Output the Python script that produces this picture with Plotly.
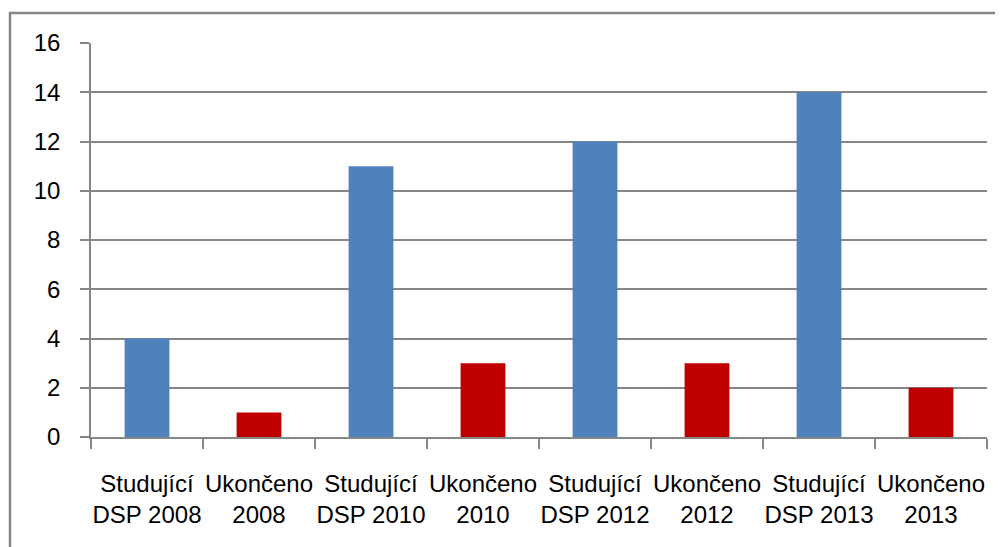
import plotly.graph_objects as go

categories = ["Studující<br>DSP 2008", "Ukončeno<br>2008",
              "Studující<br>DSP 2010", "Ukončeno<br>2010",
              "Studující<br>DSP 2012", "Ukončeno<br>2012",
              "Studující<br>DSP 2013", "Ukončeno<br>2013"]
values = [4, 1, 11, 3, 12, 3, 14, 2]
bar_colors = ["#4F81BD", "#C00000", "#4F81BD", "#C00000",
              "#4F81BD", "#C00000", "#4F81BD", "#C00000"]
y_ticks = [0, 2, 4, 6, 8, 10, 12, 14, 16]

# page body has an 8px margin, so shift everything up/left by 8
OFF = 8
W, H = 1003, 547
pw, ph = 896, 394
L, T = 91 - OFF, 43 - OFF
R, B = W - L - pw, H - T - ph

fig = go.Figure(go.Bar(x=categories, y=values, marker=dict(color=bar_colors, line=dict(width=0)),
                       hoverinfo="x+y"))

grid = "#868686"
fig.update_layout(
    width=W, height=H,
    margin=dict(l=L, r=R, t=T, b=B, pad=0, autoexpand=False),
    paper_bgcolor="white", plot_bgcolor="white",
    bargap=0.6, showlegend=False,
    font=dict(family="Liberation Sans, Arial, sans-serif", size=24, color="#000000"),
    xaxis=dict(type="category", tickson="boundaries", ticks="outside", ticklen=10,
               tickcolor=grid, tickwidth=1.5, showgrid=False,
               showline=True, linecolor=grid, linewidth=1.5,
               tickfont=dict(size=24), ticklabelstandoff=24, tickangle=0),
    yaxis=dict(range=[0, 16], tickvals=y_ticks, ticks="outside", ticklen=9,
               tickcolor=grid, tickwidth=1.5, showgrid=True, gridcolor=grid, gridwidth=1.5,
               showline=True, linecolor=grid, linewidth=1.5, zeroline=False,
               tickfont=dict(size=24), ticklabelstandoff=15),
    shapes=[dict(type="rect", xref="paper", yref="paper",
                 x0=(10 - OFF - L) / pw, x1=(W + 20 - L) / pw,
                 y0=-(H + 20 - T - ph) / ph, y1=(T + ph - (13 - OFF)) / ph,
                 line=dict(color="#878787", width=2.5), fillcolor="rgba(0,0,0,0)", layer="below")],
)

fig.write_html("out.html")
